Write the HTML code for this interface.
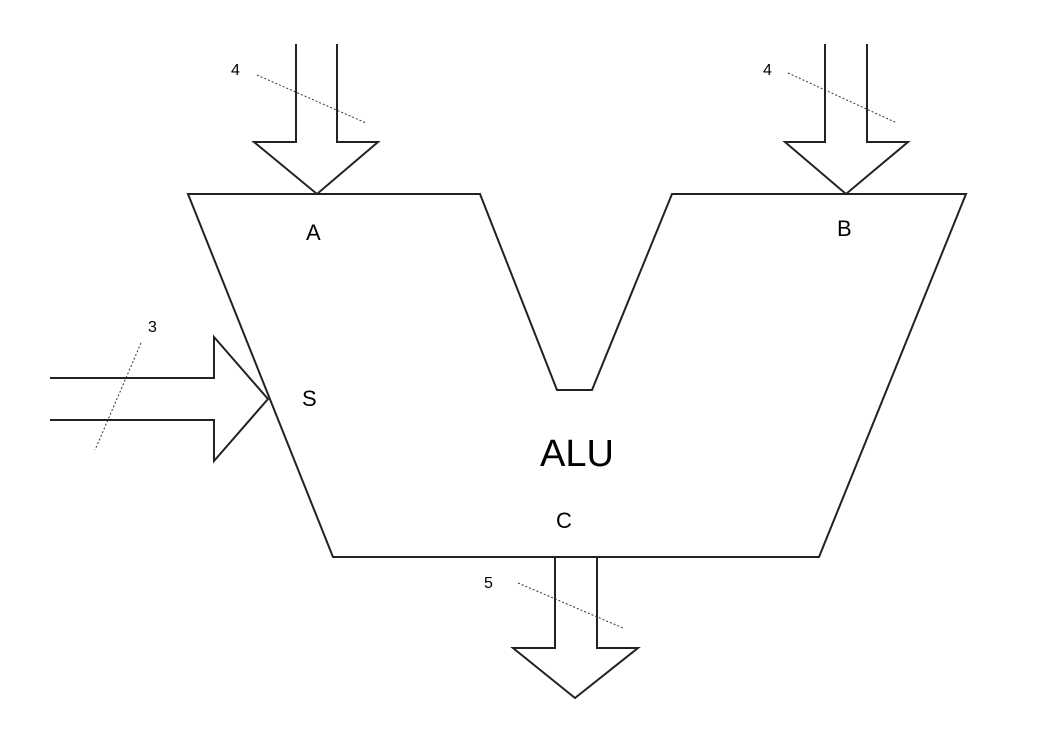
<!DOCTYPE html>
<html><head><style>
html,body{margin:0;padding:0;background:#fff;}
svg{display:block;}
text{font-family:"Liberation Sans",Arial,sans-serif;fill:#000;}
</style></head><body>
<svg width="1040" height="742" viewBox="0 0 1040 742" xmlns="http://www.w3.org/2000/svg">
<g fill="none" stroke="#222" stroke-width="2" stroke-linejoin="miter">
<polygon points="188,194 480,194 557,390 592,390 672,194 966,194 819,557 333,557" fill="#fff"/>
<polyline points="296,44 296,142 254,142 317,194 378,142 337,142 337,44"/>
<polyline points="825,44 825,142 785,142 846,194 908,142 867,142 867,44"/>
<polyline points="50,378 214,378 214,337 268,399 214,461 214,420 50,420"/>
<polyline points="555,557 555,648 513,648 575,698 638,648 597,648 597,557"/>
</g>
<g stroke="#333" stroke-width="1" stroke-dasharray="2,2">
<line x1="257" y1="75" x2="366" y2="123"/>
<line x1="788" y1="73" x2="897" y2="123"/>
<line x1="141" y1="343" x2="95" y2="450"/>
<line x1="518" y1="583" x2="623" y2="628"/>
</g>
<text x="231" y="75" font-size="16">4</text>
<text x="763" y="75" font-size="16">4</text>
<text x="148" y="332" font-size="16">3</text>
<text x="484" y="588" font-size="16">5</text>
<text x="306" y="240" font-size="22">A</text>
<text x="837" y="236" font-size="22">B</text>
<text x="302" y="406" font-size="22">S</text>
<text x="556" y="528" font-size="22">C</text>
<text x="540" y="466" font-size="38">ALU</text>
</svg>
</body></html>
